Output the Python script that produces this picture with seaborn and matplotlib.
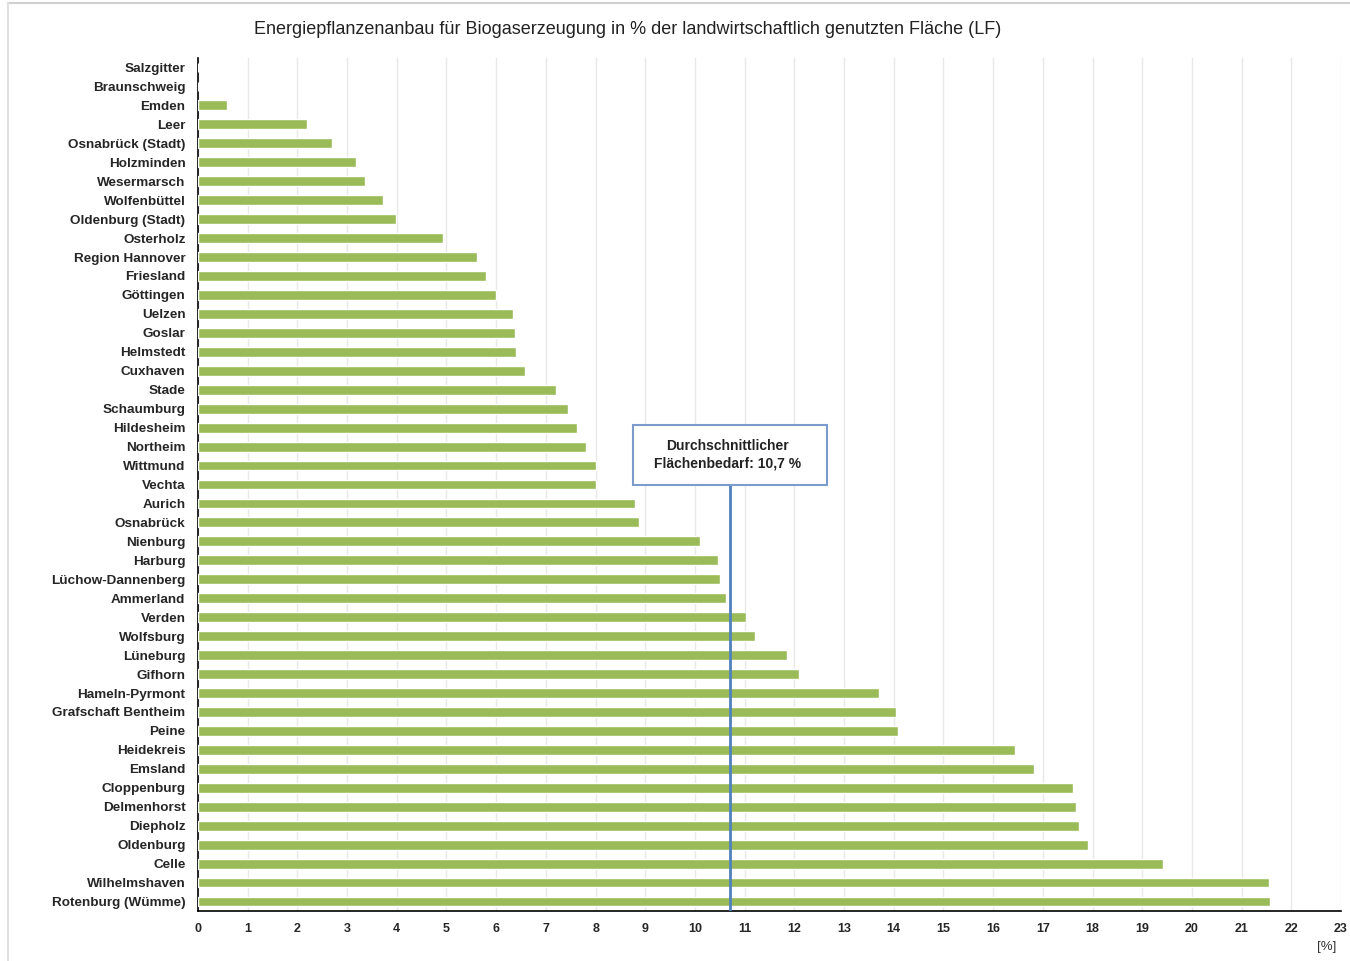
import pandas as pd
import matplotlib.pyplot as plt
import seaborn as sns
from matplotlib.patches import Rectangle

# Landkreise / kreisfreie Städte, von oben nach unten
kreise = ['Salzgitter', 'Braunschweig', 'Emden', 'Leer', 'Osnabrück (Stadt)', 'Holzminden',
          'Wesermarsch', 'Wolfenbüttel', 'Oldenburg (Stadt)', 'Osterholz', 'Region Hannover',
          'Friesland', 'Göttingen', 'Uelzen', 'Goslar', 'Helmstedt', 'Cuxhaven', 'Stade',
          'Schaumburg', 'Hildesheim', 'Northeim', 'Wittmund', 'Vechta', 'Aurich', 'Osnabrück',
          'Nienburg', 'Harburg', 'Lüchow-Dannenberg', 'Ammerland', 'Verden', 'Wolfsburg',
          'Lüneburg', 'Gifhorn', 'Hameln-Pyrmont', 'Grafschaft Bentheim', 'Peine', 'Heidekreis',
          'Emsland', 'Cloppenburg', 'Delmenhorst', 'Diepholz', 'Oldenburg', 'Celle',
          'Wilhelmshaven', 'Rotenburg (Wümme)']
anteil = [0.0, 0.0, 0.58, 2.2, 2.7, 3.17, 3.37, 3.72, 3.98, 4.94, 5.62, 5.8, 6.0, 6.33, 6.37,
          6.39, 6.57, 7.2, 7.45, 7.63, 7.81, 8.0, 8.0, 8.8, 8.88, 10.1, 10.47, 10.5, 10.63,
          11.03, 11.2, 11.85, 12.1, 13.7, 14.04, 14.08, 16.45, 16.83, 17.6, 17.67, 17.73, 17.9,
          19.42, 21.55, 21.57]
mittel = 10.7
x_ticks = list(range(0, 24))

df = pd.DataFrame({'Kreis': kreise, 'Anteil': anteil})

sns.set_style('white')
plt.rcParams['font.family'] = ['Liberation Sans', 'DejaVu Sans']

fig = plt.figure(figsize=(13.5, 9.61), dpi=100)
ax = fig.add_axes([198 / 1350, 1 - 911 / 961, (1341 - 198) / 1350, (911 - 58) / 961])

sns.barplot(data=df, x='Anteil', y='Kreis', orient='h', color='#9BBB59',
            width=0.52, saturation=1, ax=ax, zorder=3)

n = len(kreise)
ax.set_xlim(0, 23)
ax.set_ylim(n - 0.5, -0.5)
ax.set_xticks(x_ticks)
ax.set_xticklabels([str(t) for t in x_ticks], fontsize=9, fontweight='bold')
# Teilstriche zwischen den Kategorien wie in Excel
ax.set_yticks([i + 0.5 for i in range(-1, n)], minor=True)
ax.tick_params(axis='y', which='major', labelsize=9.7, length=0, pad=9)
ax.tick_params(axis='y', which='minor', length=4, width=1, direction='out', color='black')
ax.tick_params(axis='x', length=4, width=1, direction='out', pad=5, color='black')
for lbl in ax.get_yticklabels():
    lbl.set_fontweight('bold')
ax.grid(axis='x', color='#e8e8e8', linewidth=1, zorder=0)
ax.set_axisbelow(True)
ax.set_xlabel('')
ax.set_ylabel('')
for s in ['top', 'right']:
    ax.spines[s].set_visible(False)
for s in ['left', 'bottom']:
    ax.spines[s].set_color('black')
    ax.spines[s].set_linewidth(1.2)

# Durchschnittslinie mit Textbox
ax.plot([mittel, mittel], [n - 0.5, 22.0], color='#4F81BD', linewidth=2, zorder=4)
ax.add_patch(Rectangle((8.75, 22.02), 3.9, -3.16, facecolor='white', edgecolor='#7b9bcc',
                       linewidth=1.5, zorder=5))
ax.text(10.65, 20.44, 'Durchschnittlicher\nFlächenbedarf: 10,7 %', ha='center', va='center',
        fontsize=10, fontweight='bold', color='#222222', zorder=6, linespacing=1.3)

fig.text(628 / 1350, 1 - 30 / 961, 'Energiepflanzenanbau für Biogaserzeugung in % der landwirtschaftlich genutzten Fläche (LF)',
         ha='center', va='center', fontsize=13, color='#222222')
fig.text(1327 / 1350, 1 - 947 / 961, '[%]', ha='center', va='center', fontsize=9.5, color='#333333')

# Rahmen der Grafik
fig.add_artist(plt.Line2D([8 / 1350, 1], [1 - 3 / 961, 1 - 3 / 961], transform=fig.transFigure,
                          color='#d0d0d0', linewidth=1.5))
fig.add_artist(plt.Line2D([8 / 1350, 8 / 1350], [0, 1 - 3 / 961], transform=fig.transFigure,
                          color='#e0e0e0', linewidth=1.5))

plt.savefig('out.png', dpi=100)
